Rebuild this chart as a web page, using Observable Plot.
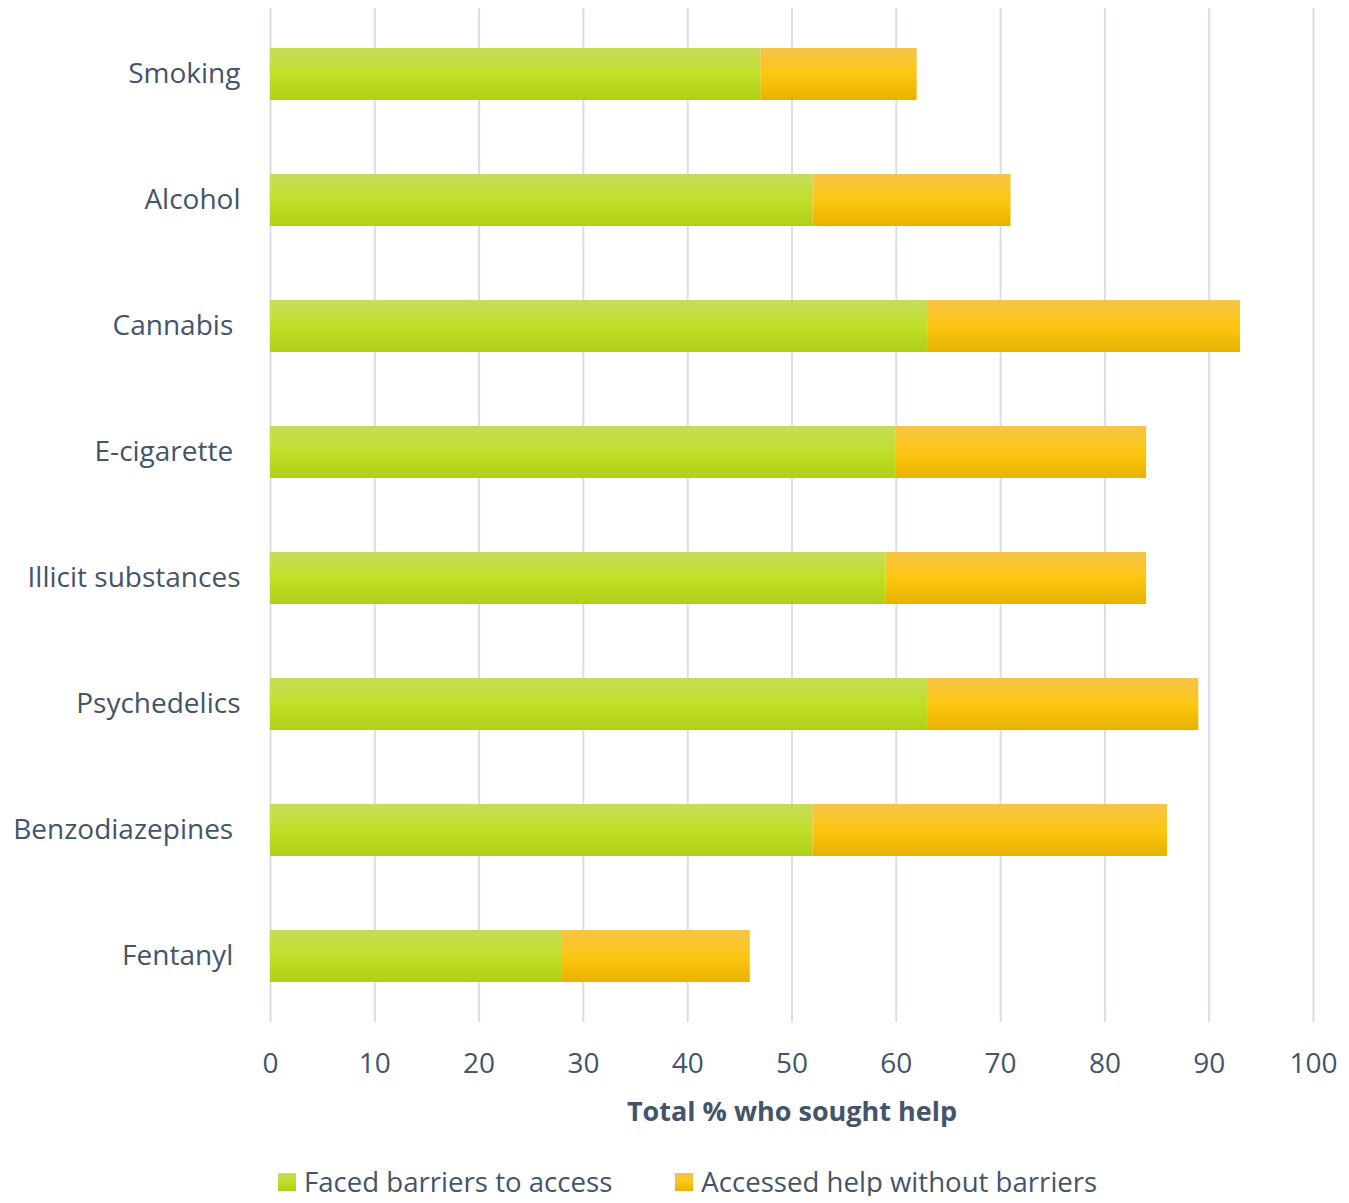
<!DOCTYPE html>
<html>
<head>
<meta charset="utf-8">
<script src="https://cdn.jsdelivr.net/npm/d3@7"></script>
<script src="https://cdn.jsdelivr.net/npm/@observablehq/plot@0.6"></script>
<style>
  body { margin: 0; background: #fff; font-family: "Open Sans", sans-serif; }
  #legend { display: flex; margin-left: 278px; margin-top: 18px; font-size: 27.6px; color: #44546a; line-height: 1; }
  .item { display: flex; align-items: center; }
  .sw { width: 18px; height: 18px; margin-right: 8px; }
</style>
</head>
<body>
<div id="chart"></div>
<div id="legend"></div>
<script>
const categories = ["Smoking", "Alcohol", "Cannabis", "E-cigarette", "Illicit substances", "Psychedelics", "Benzodiazepines", "Fentanyl"];
const seriesNames = ["Faced barriers to access", "Accessed help without barriers"];
const facedBarriers = [47, 52, 63, 60, 59, 63, 52, 28];
const withoutBarriers = [15, 19, 30, 24, 25, 26, 34, 18];
const xTicks = [0, 10, 20, 30, 40, 50, 60, 70, 80, 90, 100];
const trailing = new Set(["Cannabis", "E-cigarette", "Benzodiazepines", "Fentanyl"]);

const fills = ["url(#gGreen)", "url(#gOrange)"];
const data = [];
categories.forEach((c, i) => {
  data.push({cat: c, series: 0, value: facedBarriers[i]});
  data.push({cat: c, series: 1, value: withoutBarriers[i]});
});

const chart = Plot.plot({
  width: 1349,
  height: 1150,
  marginLeft: 270,
  marginRight: 36,
  marginTop: 8,
  marginBottom: 128,
  style: {fontFamily: "'Open Sans', sans-serif", fontSize: "28px", color: "#44546a", background: "#fff"},
  x: {domain: [0, 100], ticks: xTicks},
  y: {domain: categories, paddingInner: 0.59, paddingOuter: 0.295},
  color: {type: "identity"},
  marks: [
    Plot.gridX(xTicks, {stroke: "#d9dde4", strokeOpacity: 1, strokeWidth: 2}),
    Plot.axisX(xTicks, {tickSize: 0, tickPadding: 31, fontSize: 28, fill: "#44546a", label: null}),
    Plot.axisY({tickSize: 0, tickPadding: 30, fontSize: 28, fill: "#44546a", label: null,
      tickFormat: d => trailing.has(d) ? d + "\u00a0" : d}),
    Plot.text(["Total % who sought help"], {frameAnchor: "bottom", dy: 98, fontSize: 27, fontWeight: "bold", fill: "#44546a"}),
    Plot.barX(data, Plot.stackX({x: "value", y: "cat", fill: d => fills[d.series], order: "series"}))
  ]
});

const ns = "http://www.w3.org/2000/svg";
const defs = document.createElementNS(ns, "defs");
defs.innerHTML = `
<linearGradient id="gGreen" x1="0" y1="0" x2="0" y2="1">
  <stop offset="0" stop-color="#c6dc5a"/>
  <stop offset="0.5" stop-color="#c0e028"/>
  <stop offset="1" stop-color="#afcf18"/>
</linearGradient>
<linearGradient id="gOrange" x1="0" y1="0" x2="0" y2="1">
  <stop offset="0" stop-color="#f6c448"/>
  <stop offset="0.5" stop-color="#fdc612"/>
  <stop offset="1" stop-color="#e7b300"/>
</linearGradient>`;
chart.insertBefore(defs, chart.firstChild);
document.getElementById("chart").appendChild(chart);

const legend = document.getElementById("legend");
seriesNames.forEach((name, i) => {
  const it = document.createElement("div");
  it.className = "item";
  it.style.marginRight = i === 0 ? "63px" : "0";
  const sw = document.createElement("div");
  sw.className = "sw";
  sw.style.background = i === 0 ? "linear-gradient(#c6dc5a,#c0e028,#afcf18)" : "linear-gradient(#f6c448,#fdc612,#e7b300)";
  const t = document.createElement("span");
  t.textContent = name;
  it.appendChild(sw); it.appendChild(t);
  legend.appendChild(it);
});
</script>
</body>
</html>
